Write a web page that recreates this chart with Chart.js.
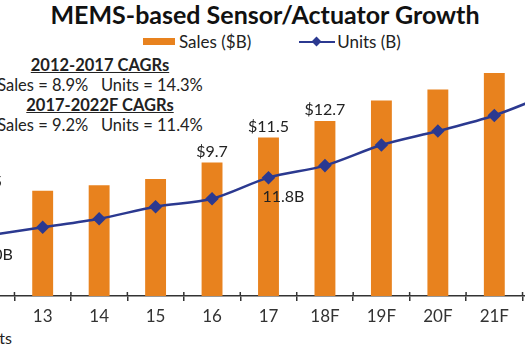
<!DOCTYPE html>
<html>
<head>
<meta charset="utf-8">
<script src="https://cdn.jsdelivr.net/npm/chart.js@4/dist/chart.umd.min.js"></script>
<style>
  html, body { margin: 0; padding: 0; background: #fff; }
  body { width: 525px; height: 350px; overflow: hidden; position: relative; font-family: Lato, "Open Sans", sans-serif; color: #222; }
  #title { position: absolute; top: 0; left: 0; width: 530px; text-align: center; font-weight: bold; font-size: 25px; line-height: 28px; color: #111; }
  #legend { position: absolute; top: 30px; left: 143px; font-size: 17px; line-height: 20px; white-space: nowrap; }
  #legend span { display: inline-block; vertical-align: middle; }
  .sw-bar { width: 32px; height: 7px; background: #E8821E; margin-right: 4px; }
  .sw-line { width: 36px; height: 12px; position: relative; margin-left: 48px; margin-right: 2px; }
  .sw-line:before { content: ''; position: absolute; left: 0; right: 0; top: 5px; height: 2px; background: #2B3990; }
  .sw-line:after { content: ''; position: absolute; left: 14px; top: 2px; width: 7px; height: 7px; background: #2B3990; transform: rotate(45deg); }
  #cagr { position: absolute; top: 55px; left: -5px; width: 210px; text-align: center; font-size: 16.5px; line-height: 20px; white-space: nowrap; }
  #cagr b { text-decoration: underline; }
  #foot { position: absolute; top: 328px; right: 513px; font-size: 16px; white-space: nowrap; }
  #wrap { position: absolute; left: -42px; top: 20px; width: 621px; height: 316px; }
</style>
</head>
<body>
<div id="title">MEMS-based Sensor/Actuator Growth</div>
<div id="legend"><span class="sw-bar"></span><span>Sales ($B)</span><span class="sw-line"></span><span>Units (B)</span></div>
<div id="cagr">
  <b>2012-2017 CAGRs</b><br>
  Sales = 8.9%&nbsp;&nbsp;&nbsp;Units = 14.3%<br>
  <b>2017-2022F CAGRs</b><br>
  Sales = 9.2%&nbsp;&nbsp;&nbsp;Units = 11.4%
</div>
<div id="foot">Units</div>
<div id="wrap"><canvas id="chart" width="621" height="316"></canvas></div>

<script>
'use strict';

// ── Data ──────────────────────────────────────────────────────────────────────
const years       = ['12', '13', '14', '15', '16', '17', '18F', '19F', '20F', '21F', '22F'];
const salesB      = [7.5, 7.65, 8.05, 8.5, 9.7, 11.5, 12.7, 14.2, 15.0, 16.2, 17.9];
const unitsB      = [6.0, 6.85, 7.7, 8.9, 9.7, 11.8, 13.0, 15.05, 16.45, 18.0, 20.2];
const salesLabels = ['$7.5', '', '', '', '$9.7', '$11.5', '$12.7', '', '', '', '$17.9'];
const unitLabels  = ['6.0B', '', '', '', '', '11.8B', '', '', '', '', '20.2B'];

const ORANGE = '#E8821E';
const NAVY   = '#2B3990';

// ── Value labels over bars / under points ─────────────────────────────────────
const valueLabels = {
    id: 'valueLabels',
    afterDatasetsDraw(chart) {
        const ctx = chart.ctx;
        ctx.save();
        ctx.font = '16px Lato, "Open Sans", sans-serif';
        ctx.fillStyle = '#222';

        const bars = chart.getDatasetMeta(0).data;
        ctx.textAlign = 'center';
        ctx.textBaseline = 'bottom';
        bars.forEach((b, i) => {
            if (salesLabels[i]) ctx.fillText(salesLabels[i], b.x, b.y - 3);
        });

        const pts = chart.getDatasetMeta(1).data;
        ctx.textAlign = 'left';
        ctx.textBaseline = 'top';
        pts.forEach((p, i) => {
            if (unitLabels[i]) ctx.fillText(unitLabels[i], p.x - 6, p.y + 11);
        });
        ctx.restore();
    }
};

// ── Tick marks crossing the axis line ─────────────────────────────────────────
const crossTicks = {
    id: 'crossTicks',
    afterDraw(chart) {
        const x = chart.scales.x;
        const ctx = chart.ctx;
        ctx.save();
        ctx.strokeStyle = '#333';
        ctx.lineWidth = 1.5;
        ctx.beginPath();
        for (let i = 0; i <= years.length; i++) {
            const px = x.getPixelForValue(i - 0.5);
            ctx.moveTo(px, x.top - 4);
            ctx.lineTo(px, x.top);
        }
        ctx.stroke();
        ctx.restore();
    }
};

new Chart(document.getElementById('chart'), {
    type: 'bar',
    data: {
        labels: years,
        datasets: [
            {
                type: 'bar',
                label: 'Sales ($B)',
                data: salesB,
                backgroundColor: ORANGE,
                yAxisID: 'y',
                barPercentage: 0.37,
                categoryPercentage: 1,
                order: 2
            },
            {
                type: 'line',
                label: 'Units (B)',
                data: unitsB,
                borderColor: NAVY,
                backgroundColor: NAVY,
                borderWidth: 2.5,
                tension: 0.3,
                pointStyle: 'rectRot',
                pointRadius: 5,
                pointBackgroundColor: NAVY,
                pointBorderColor: NAVY,
                yAxisID: 'y1',
                clip: false,
                order: 1
            }
        ]
    },
    options: {
        responsive: false,
        animation: false,
        layout: { padding: 0, autoPadding: false },
        plugins: {
            legend: { display: false },
            title: { display: false },
            tooltip: { enabled: false }
        },
        scales: {
            x: {
                grid: { display: true, drawOnChartArea: false, tickLength: 5, color: '#333', lineWidth: 1.5 },
                border: { display: true, color: '#333', width: 1.5 },
                ticks: { color: '#333', font: { family: 'Lato', size: 17 }, padding: 5, maxRotation: 0 },
                afterFit: scale => {
                    scale.height = 40;
                    // let the plot span the full canvas width
                    scale.paddingLeft = 0;
                    scale.paddingRight = 0;
                }
            },
            y:  { display: false, min: 0, max: 20.04 },
            y1: { display: false, min: 0, max: 27.52, position: 'right' }
        }
    },
    plugins: [valueLabels, crossTicks]
});
</script>
</body>
</html>
